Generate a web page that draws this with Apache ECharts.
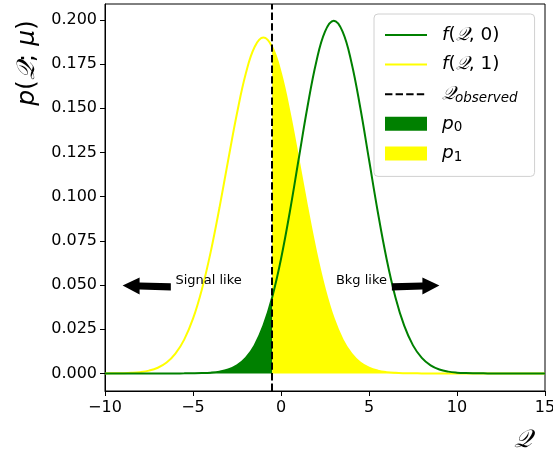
<!DOCTYPE html>
<html><head><meta charset="utf-8">
<script src="https://cdn.jsdelivr.net/npm/echarts@6/dist/echarts.min.js"></script>
<style>html,body{margin:0;padding:0;background:#fff}#c{width:553px;height:457px}</style>
</head><body><div id="c"></div><script>
// Q grid (x values)
const qValues = [-10,-9.5,-9,-8.5,-8,-7.5,-7,-6.5,-6,-5.5,-5,-4.5,-4,-3.5,-3,-2.5,-2,-1.5,-1,-0.5,
  0,0.5,1,1.5,2,2.5,3,3.5,4,4.5,5,5.5,6,6.5,7,7.5,8,8.5,9,9.5,10,10.5,11,11.5,12,12.5,13,13.5,14,14.5,15];
// f(Q,0) green curve
const f0Values = [0,0,0,0,0,0,0,0.0000025,0.000008,0.000024,0.000067,0.000176,0.000436,0.001016,0.002216,0.004547,0.008766,0.015873,0.027000,0.043146,
  0.064768,0.091337,0.121003,0.150591,0.176059,0.193361,0.1995,0.193361,0.176059,0.150591,0.121003,0.091337,0.064768,0.043146,0.027000,0.015873,0.008766,0.004547,0.002216,0.001016,0.000436,0.000176,0.000067,0.000024,0.000008,0.000002,0,0,0,0,0];
// f(Q,1) yellow curve
const f1Values = [0.00002,0.00005,0.00013,0.00032,0.00073,0.00158,0.00321,0.00615,0.01117,0.01913,0.03096,0.04738,0.06848,0.09355,0.12073,0.14721,0.16963,0.18469,0.19000,0.18469,
  0.16963,0.14721,0.12073,0.09355,0.06848,0.04738,0.03096,0.01913,0.01117,0.00615,0.00321,0.00158,0.00073,0.00032,0.00013,0.00005,0.00002,0.00001,0,0,0,0,0,0,0,0,0,0,0,0,0];
const qObserved = -0.5;
const yTicks = [0,0.025,0.05,0.075,0.1,0.125,0.15,0.175,0.2];
const arrows = [
  {label:'Signal like', textAt:[-6,0.05], tail:[-6.26,0.05], tip:[-9,0.05]},
  {label:'Bkg like', textAt:[3.12,0.05], tail:[6.3,0.05], tip:[9,0.05]}
];

const Q = '𝒬';
const FONT = "'DejaVu Sans', sans-serif";
const QFONT = "'DejaVu Serif','DejaVu Sans', serif";

const line0 = qValues.map((q,i)=>[q,f0Values[i]]);
const line1 = qValues.map((q,i)=>[q,f1Values[i]]);
const fill0 = line0.filter(p=>p[0] <= qObserved);
const fill1 = line1.filter(p=>p[0] >= qObserved);

const GREEN = '#008000', YELLOW = '#ffff00';
const LFS = 18.5, LLH = 22;
const legendRich = {
  sp:{width:10, lineHeight:LLH},
  it:{fontFamily:FONT, fontStyle:'italic', fontSize:LFS, lineHeight:LLH, color:'#000'},
  n:{fontFamily:FONT, fontSize:LFS, lineHeight:LLH, color:'#000'},
  q:{fontFamily:QFONT, fontStyle:'italic', fontSize:LFS, lineHeight:LLH, color:'#000'},
  sub:{fontFamily:FONT, fontStyle:'italic', fontSize:13.5, lineHeight:12, verticalAlign:'bottom', color:'#000'},
  subn:{fontFamily:FONT, fontSize:13.5, lineHeight:12, verticalAlign:'bottom', color:'#000'}
};
const legendText = {
  f0: '{sp|}{it|f}{n|(}{q|'+Q+'}{n|, 0)}',
  f1: '{sp|}{it|f}{n|(}{q|'+Q+'}{n|, 1)}',
  obs: '{sp|}{q|'+Q+'}{sub|observed}',
  p0: '{sp|}{it|p}{subn|0}',
  p1: '{sp|}{it|p}{subn|1}'
};

const chart = echarts.init(document.getElementById('c'), null, {renderer:'canvas'});
const option = {
  animation:false,
  backgroundColor:'#fff',
  grid:{left:105, right:8, top:4, bottom:66, containLabel:false, outerBoundsMode:'none',
    show:true, borderColor:'#000', borderWidth:1, backgroundColor:'transparent'},
  xAxis:{type:'value', min:-10, max:15, interval:5,
    axisLine:{onZero:false, lineStyle:{color:'#000', width:1}},
    axisTick:{length:5, lineStyle:{color:'#000'}},
    axisLabel:{fontFamily:FONT, fontSize:16, color:'#000', margin:9, formatter:v=>String(v).replace('-','\u2212')},
    splitLine:{show:false}},
  yAxis:{type:'value', min:-0.00995, max:0.209,
    axisLine:{show:true, onZero:false, lineStyle:{color:'#000', width:1}},
    axisTick:{show:true, length:5, customValues:yTicks, lineStyle:{color:'#000'}},
    axisLabel:{fontFamily:FONT, fontSize:16, color:'#000', margin:8, customValues:yTicks, formatter:v=>v.toFixed(3)},
    splitLine:{show:false}},
  legend:{
    orient:'vertical', left:374, top:14,
    padding:[10,17,12,10], itemWidth:42, itemHeight:14, itemGap:7.6,
    backgroundColor:'rgba(255,255,255,0.8)', borderColor:'#d0d0d0', borderWidth:1, borderRadius:4,
    itemStyle:{borderWidth:0, opacity:0},
    textStyle:{rich:legendRich, lineHeight:LLH, fontSize:LFS},
    formatter:name=>legendText[name],
    data:[
      {name:'f0'},
      {name:'f1'},
      {name:'obs'},
      {name:'p0', icon:'rect', itemStyle:{color:GREEN, borderWidth:0, opacity:1}},
      {name:'p1', icon:'rect', itemStyle:{color:YELLOW, borderWidth:0, opacity:1}}
    ],
    selectedMode:false
  },
  series:[
    {name:'p0', type:'line', data:fill0, smooth:0.4, symbol:'none', z:1,
      itemStyle:{color:GREEN}, lineStyle:{width:0}, areaStyle:{color:GREEN, opacity:1}},
    {name:'p1', type:'line', data:fill1, smooth:0.4, symbol:'none', z:1,
      itemStyle:{color:YELLOW}, lineStyle:{width:0}, areaStyle:{color:YELLOW, opacity:1}},
    {name:'f0', type:'line', data:line0, smooth:0.4, symbol:'none', z:3,
      itemStyle:{color:GREEN}, lineStyle:{color:GREEN, width:2}},
    {name:'f1', type:'line', data:line1, smooth:0.4, symbol:'none', z:2,
      itemStyle:{color:YELLOW}, lineStyle:{color:YELLOW, width:2}},
    {name:'obs', type:'line', data:[], symbol:'none', z:4,
      itemStyle:{color:'#000'}, lineStyle:{color:'#000', width:2, type:[7.4,3.2]},
      markLine:{silent:true, symbol:['none','none'], label:{show:false},
        lineStyle:{color:'#000', width:2, type:[7.4,3.2]},
        data:[{xAxis:qObserved}]}}
  ]
};
chart.setOption(option);

const g = [];
arrows.forEach(a=>{
  const tip = chart.convertToPixel({gridIndex:0}, a.tip);
  const tail = chart.convertToPixel({gridIndex:0}, a.tail);
  const tp = chart.convertToPixel({gridIndex:0}, a.textAt);
  const dir = Math.sign(tail[0]-tip[0]);
  const hl = 17, hw = 8.5, sw = 3.6, ty = tip[1]+0.5, tly = tail[1]+1.8;
  const hb = tip[0]+dir*hl;
  const midY = ty + (tly-ty)*hl/Math.abs(tail[0]-tip[0]);
  g.push({type:'polygon', z:10, shape:{points:[
    [tip[0],ty],[hb,midY-hw],[hb,midY-sw],[tail[0],tly-sw],[tail[0],tly+sw],[hb,midY+sw],[hb,midY+hw]]},
    style:{fill:'#000'}});
  g.push({type:'text', z:10, x:tp[0], y:tp[1]-4.6, style:{text:a.label, fontFamily:FONT, fontSize:13, fill:'#000', align:'left', verticalAlign:'middle'}});
});
const bigRich = {
  it:{fontFamily:FONT, fontStyle:'italic', fontSize:25, fill:'#000'},
  n:{fontFamily:FONT, fontSize:25, fill:'#000'},
  q:{fontFamily:QFONT, fontStyle:'italic', fontSize:25, fill:'#000'}
};
g.push({type:'text', z:10, x:27, y:63, rotation:Math.PI/2,
  style:{text:'{it|p}{n|(}{q|'+Q+'}{n|; }{it|μ}{n|)}', rich:bigRich, align:'center', verticalAlign:'middle'}});
g.push({type:'text', z:10, x:523, y:440,
  style:{text:'{q|'+Q+'}', rich:bigRich, align:'center', verticalAlign:'middle'}});
chart.setOption({graphic:{elements:g}});
</script></body></html>
